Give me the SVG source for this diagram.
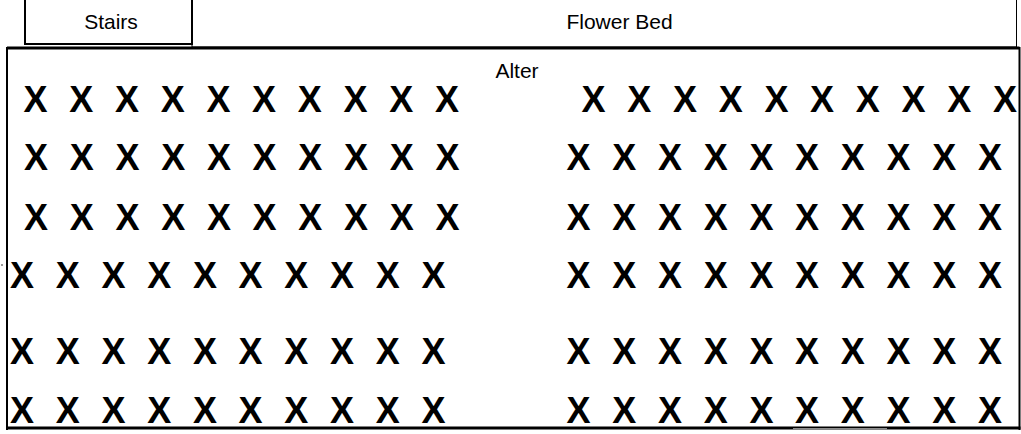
<svg xmlns="http://www.w3.org/2000/svg" width="1021" height="434" viewBox="0 0 1021 434">
  <style>
    .lbl { font-family: "Liberation Sans", Arial, sans-serif; font-size: 21px; fill: #000; }
    .seat { font-family: "Liberation Sans", Arial, sans-serif; font-size: 36px; font-weight: bold; fill: #000; }
    .edge { fill: none; stroke: #000; }
  </style>
  <rect width="1021" height="434" fill="#fff"/>
  <g id="stairs">
    <rect class="edge" x="25" y="-2" width="167" height="46" stroke-width="2"/>
    <text class="lbl" x="111" y="29" text-anchor="middle">Stairs</text>
  </g>
  <g id="flower-bed">
    <rect class="edge" x="192" y="-2" width="824.5" height="49" stroke-width="1"/>
    <text class="lbl" x="619.5" y="29" text-anchor="middle">Flower Bed</text>
  </g>
  <g id="room">
    <path class="edge" d="M7 48 H1019.5" stroke-width="3"/>
    <path class="edge" d="M7 47 V430" stroke-width="2"/>
    <path class="edge" d="M1019.5 47 V430" stroke-width="2"/>
    <path class="edge" d="M6 428 H1020.5" stroke-width="3"/>
    <path d="M793 428.8 H887" stroke="#8c8c8c" stroke-width="1.6"/>
    <rect x="1" y="264" width="2" height="2" fill="#9a9a9a"/>
  </g>
  <g id="alter">
    <text class="lbl" x="517" y="78" text-anchor="middle">Alter</text>
  </g>
  <g id="seats-left">
    <text class="seat" x="23.6 69.3 115 160.7 206.4 252.1 297.8 343.5 389.2 434.9" y="112">XXXXXXXXXX</text>
    <text class="seat" x="24.1 69.8 115.5 161.2 206.9 252.6 298.3 344 389.7 435.4" y="170">XXXXXXXXXX</text>
    <text class="seat" x="24.1 69.8 115.5 161.2 206.9 252.6 298.3 344 389.7 435.4" y="230">XXXXXXXXXX</text>
    <text class="seat" x="10.1 55.8 101.5 147.2 192.9 238.6 284.3 330 375.7 421.4" y="288">XXXXXXXXXX</text>
    <text class="seat" x="10.1 55.8 101.5 147.2 192.9 238.6 284.3 330 375.7 421.4" y="364">XXXXXXXXXX</text>
    <text class="seat" x="10.1 55.8 101.5 147.2 192.9 238.6 284.3 330 375.7 421.4" y="423">XXXXXXXXXX</text>
  </g>
  <g id="seats-right">
    <text class="seat" x="581.6 627.3 673 718.7 764.4 810.1 855.8 901.5 947.2 992.9" y="112">XXXXXXXXXX</text>
    <text class="seat" x="566.6 612.3 658 703.7 749.4 795.1 840.8 886.5 932.2 977.9" y="170">XXXXXXXXXX</text>
    <text class="seat" x="566.6 612.3 658 703.7 749.4 795.1 840.8 886.5 932.2 977.9" y="230">XXXXXXXXXX</text>
    <text class="seat" x="566.6 612.3 658 703.7 749.4 795.1 840.8 886.5 932.2 977.9" y="288">XXXXXXXXXX</text>
    <text class="seat" x="566.6 612.3 658 703.7 749.4 795.1 840.8 886.5 932.2 977.9" y="364">XXXXXXXXXX</text>
    <text class="seat" x="566.6 612.3 658 703.7 749.4 795.1 840.8 886.5 932.2 977.9" y="423">XXXXXXXXXX</text>
  </g>
</svg>
